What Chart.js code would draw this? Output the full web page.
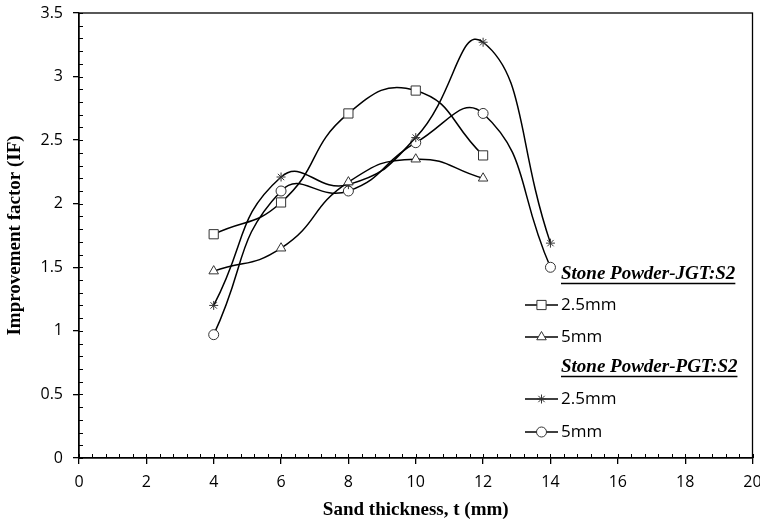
<!DOCTYPE html>
<html>
<head>
<meta charset="utf-8">
<script src="https://cdn.jsdelivr.net/npm/chart.js@4/dist/chart.umd.min.js"></script>
<style>
html,body{margin:0;padding:0;background:#fff;}
#wrap{width:760px;height:521px;}
</style>
</head>
<body>
<div id="wrap"><canvas id="c" width="760" height="521"></canvas></div>
<script>
// ---- data ----
const xValues = [4, 6, 8, 10, 12, 14];
const jgt25 = [1.76, 2.01, 2.71, 2.89, 2.38];
const jgt5 = [1.47, 1.65, 2.17, 2.35, 2.20];
const pgt25 = [1.20, 2.21, 2.15, 2.52, 3.27, 1.69];
const pgt5 = [0.97, 2.10, 2.10, 2.48, 2.71, 1.50];
const groupTitles = ['Stone Powder-JGT:S2', 'Stone Powder-PGT:S2'];
const seriesLabels = ['2.5mm', '5mm', '2.5mm', '5mm'];
const xTitle = 'Sand thickness, t (mm)';
const yTitle = 'Improvement factor (IF)';

const toPts = arr => arr.map((v, i) => ({x: xValues[i], y: v}));
const styles = ['rect', 'triangle', 'star', 'circle'];
const radii = [6.5, 5.5, 4.5, 5];
const allSeries = [jgt25, jgt5, pgt25, pgt5];

const datasets = allSeries.map((s, i) => ({
  label: seriesLabels[i],
  data: toPts(s),
  showLine: true,
  tension: 0.5,
  borderColor: '#000',
  borderWidth: 1.5,
  pointStyle: styles[i],
  pointRadius: radii[i],
  pointBorderWidth: 1,
  pointBorderColor: '#333',
  pointBackgroundColor: '#fff',
  fill: false
}));

const SANS = '"Open Sans", "DejaVu Sans", sans-serif';
const SERIF = '"Liberation Serif", "Times New Roman", serif';

const decor = {
  id: 'decor',
  afterDraw(chart) {
    const ctx = chart.ctx;
    const a = chart.chartArea;
    const xs = chart.scales.x, ys = chart.scales.y;
    ctx.save();
    ctx.strokeStyle = '#000';
    ctx.lineWidth = 1.3;
    ctx.strokeRect(a.left, a.top, a.right - a.left, a.bottom - a.top);
    // minor ticks (inside)
    ctx.lineWidth = 1;
    ctx.beginPath();
    for (let k = 0; k <= 50; k++) {
      const px = Math.round(xs.getPixelForValue(k * 0.4)) + 0.5;
      ctx.moveTo(px, a.bottom);
      ctx.lineTo(px, a.bottom - 4);
    }
    for (let k = 0; k <= 35; k++) {
      const py = Math.round(ys.getPixelForValue(k * 0.1)) + 0.5;
      ctx.moveTo(a.left, py);
      ctx.lineTo(a.left + 4, py);
    }
    ctx.stroke();
    // legend
    const lx0 = 525, lx1 = 558, tx = 561;
    const rows = [
      {type: 'h', text: groupTitles[0], y: 274},
      {type: 's', ds: 0, y: 305},
      {type: 's', ds: 1, y: 337},
      {type: 'h', text: groupTitles[1], y: 367},
      {type: 's', ds: 2, y: 399},
      {type: 's', ds: 3, y: 432}
    ];
    ctx.textBaseline = 'middle';
    ctx.textAlign = 'left';
    rows.forEach(r => {
      if (r.type === 'h') {
        ctx.font = 'italic bold 19px ' + SERIF;
        ctx.fillStyle = '#000';
        ctx.fillText(r.text, tx, r.y);
        const w = ctx.measureText(r.text).width;
        ctx.lineWidth = 1.3;
        ctx.strokeStyle = '#000';
        ctx.beginPath();
        ctx.moveTo(tx, r.y + 9.5);
        ctx.lineTo(tx + w, r.y + 9.5);
        ctx.stroke();
      } else {
        const d = chart.data.datasets[r.ds];
        ctx.lineWidth = 1.5;
        ctx.strokeStyle = '#000';
        ctx.beginPath();
        ctx.moveTo(lx0, r.y);
        ctx.lineTo(lx1, r.y);
        ctx.stroke();
        ctx.save();
        ctx.fillStyle = '#fff';
        ctx.strokeStyle = '#333';
        ctx.lineWidth = 1;
        Chart.helpers.drawPoint(ctx, {
          pointStyle: d.pointStyle, radius: d.pointRadius, borderWidth: 1, rotation: 0
        }, (lx0 + lx1) / 2, r.y);
        ctx.restore();
        ctx.font = '17px ' + SANS;
        ctx.fillStyle = '#000';
        ctx.fillText(d.label, tx, r.y);
      }
    });
    ctx.restore();
  }
};

new Chart(document.getElementById('c'), {
  type: 'scatter',
  data: {datasets},
  plugins: [decor],
  options: {
    responsive: false,
    animation: false,
    layout: {padding: {top: 13, right: 6, left: 0, bottom: 0}},
    plugins: {legend: {display: false}, tooltip: {enabled: false}},
    scales: {
      x: {
        type: 'linear', min: 0, max: 20,
        ticks: {stepSize: 2, color: '#000', font: {family: SANS, size: 16}, padding: 9, maxRotation: 0,
                callback: v => String(v)},
        grid: {drawOnChartArea: false, tickLength: 6, color: '#000', tickColor: '#000', lineWidth: 1.3},
        border: {color: '#000', width: 1.3},
        title: {display: true, text: xTitle, color: '#000', font: {family: SERIF, size: 19, weight: 'bold'}, padding: {top: 2, bottom: 0}},
        afterFit(s) { s.height = 63; s.paddingLeft = 0; s.paddingRight = 0; }
      },
      y: {
        type: 'linear', min: 0, max: 3.5,
        ticks: {stepSize: 0.5, color: '#000', font: {family: SANS, size: 16}, padding: 10,
                callback: v => String(v)},
        grid: {drawOnChartArea: false, tickLength: 6, color: '#000', tickColor: '#000', lineWidth: 1.3},
        border: {color: '#000', width: 1.3},
        title: {display: true, text: yTitle, color: '#000', font: {family: SERIF, size: 19, weight: 'bold'}, padding: {top: 4, bottom: 2}},
        afterFit(s) { s.width = 79; s.paddingTop = 0; s.paddingBottom = 0; }
      }
    }
  }
});
</script>
</body>
</html>
